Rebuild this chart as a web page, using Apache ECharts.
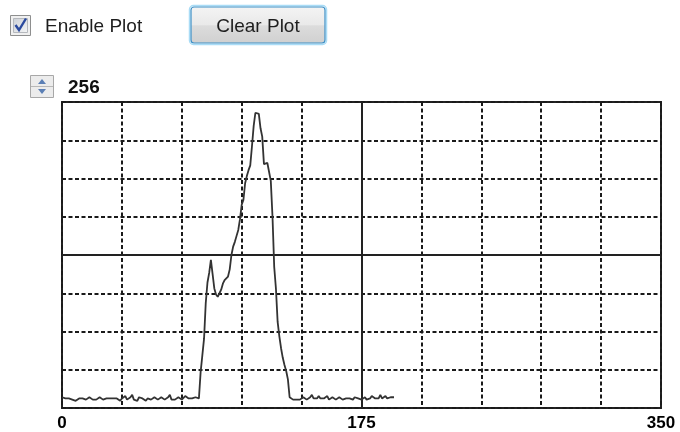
<!DOCTYPE html>
<html>
<head>
<meta charset="utf-8">
<script src="https://cdn.jsdelivr.net/npm/echarts@6/dist/echarts.min.js"></script>
<style>
html,body{margin:0;padding:0;background:#fff;}
#chart{width:680px;height:432px;}
</style>
</head>
<body>
<div id="chart"></div>
<script>
// ---- data ----
const xMin = 0, xMax = 350, xStep = 35;
const yMin = 0, yMax = 256, yStep = 32;
const xTickLabels = [0, 175, 350];
const checkboxLabel = 'Enable Plot';
const buttonLabel = 'Clear Plot';
// samples 0..79 (baseline noise)
const baselineLeft = [
  9,8,8,7,8,7,7,8,6,7,
  8,7,8,7,7,8,9,8,7,6,
  7,8,9,8,7,7,8,7,8,9,
  8,7,8,7,6,8,9,10,7,8,
  9,11,7,8,6,9,10,8,7,6,
  8,7,7,8,9,8,7,8,9,8,
  7,8,9,11,7,6,7,8,9,8,
  7,8,10,9,8,9,8,7,9,8
];
// samples 80..133 (peak)
const peak = [
  8,30,44,58,88,105,113,124,112,100,
  95,93,96,99,104,107,108,110,116,128,
  135,139,144,149,158,170,174,188,194,199,
  203,219,236,247,247,246,234,227,204,204,
  205,204,190,160,118,100,72,60,50,42,
  36,31,24,9
];
// samples 134..194 (baseline noise)
const baselineRight = [
  8,7,8,7,8,7,8,9,8,7,
  8,9,11,8,7,8,10,8,7,8,
  9,10,7,8,9,8,7,8,9,8,
  7,8,8,9,8,8,7,9,8,8,
  8,7,8,9,7,8,8,10,9,8,
  7,8,11,8,9,10,8,7,9,8,
  9
];
const signal = baselineLeft.concat(peak, baselineRight);
const seriesData = signal.map((v, i) => [i, v]);

const chart = echarts.init(document.getElementById('chart'), null, {renderer: 'canvas'});
const FONT = '"Liberation Sans", Arial, sans-serif';
const gridLine = {color: '#1a1a1a', width: 2, type: [4, 2.5]};

chart.setOption({
  animation: false,
  backgroundColor: '#ffffff',
  grid: {left: 62, right: 19, top: 102, bottom: 19.5, show: true, borderColor: '#222', borderWidth: 2, containLabel: false},
  xAxis: {
    type: 'value', min: xMin, max: xMax, interval: xStep,
    axisLine: {show: false}, axisTick: {show: false},
    splitLine: {show: true, lineStyle: gridLine},
    axisLabel: {
      show: true, margin: 7, color: '#000', fontFamily: FONT, fontWeight: 'bold', fontSize: 17,
      showMinLabel: true, showMaxLabel: true,
      formatter: v => (xTickLabels.indexOf(v) >= 0 ? String(v) : '')
    }
  },
  yAxis: {
    type: 'value', min: yMin, max: yMax, interval: yStep,
    axisLine: {show: false}, axisTick: {show: false}, axisLabel: {show: false},
    splitLine: {show: true, lineStyle: gridLine}
  },
  series: [{
    type: 'line', data: seriesData, showSymbol: false, symbol: 'none',
    lineStyle: {color: '#333', width: 1.8}, z: 5,
    markLine: {
      silent: true, symbol: 'none', label: {show: false},
      lineStyle: {color: '#222', width: 2, type: 'solid'},
      data: [{xAxis: (xMin + xMax) / 2}, {yAxis: (yMin + yMax) / 2}]
    }
  }],
  graphic: [
    // checkbox
    {type: 'rect', shape: {x: 10.5, y: 15.5, width: 20, height: 20}, style: {fill: '#f0f0f0', stroke: '#8e8f8f', lineWidth: 1}},
    {type: 'rect', shape: {x: 13.5, y: 18.5, width: 14, height: 14}, style: {fill: {type: 'linear', x: 0, y: 0, x2: 1, y2: 1, colorStops: [{offset: 0, color: '#cbcfd5'}, {offset: 1, color: '#f5f6f7'}]}, stroke: '#b5b8bd', lineWidth: 1}},
    {type: 'polyline', shape: {points: [[15.5, 25], [19, 30], [26, 18.5]]}, style: {stroke: '#2b4a9e', lineWidth: 2.4, fill: null}},
    {type: 'text', style: {x: 45, y: 27, text: checkboxLabel, font: '19px ' + FONT, fill: '#1e1e1e', verticalAlign: 'middle', textAlign: 'left'}},
    // button
    {type: 'rect', shape: {x: 189.5, y: 5.5, width: 137, height: 39, r: 4}, style: {fill: null, stroke: '#a9dcf6', lineWidth: 1.5}},
    {type: 'rect', shape: {x: 191, y: 7, width: 134, height: 36, r: 3}, style: {fill: {type: 'linear', x: 0, y: 0, x2: 0, y2: 1, colorStops: [{offset: 0, color: '#f4f4f4'}, {offset: 0.5, color: '#e9e9e9'}, {offset: 0.52, color: '#dcdcdc'}, {offset: 1, color: '#d0d0d0'}]}, stroke: '#3c8fc6', lineWidth: 1.2}},
    {type: 'text', style: {x: 258, y: 26.5, text: buttonLabel, font: '19px ' + FONT, fill: '#1e1e1e', verticalAlign: 'middle', textAlign: 'center'}},
    // spinner
    {type: 'rect', shape: {x: 30.5, y: 75.5, width: 23, height: 22}, style: {fill: '#ececec', stroke: '#a8a8a8', lineWidth: 1}},
    {type: 'line', shape: {x1: 31, y1: 86.5, x2: 53, y2: 86.5}, style: {stroke: '#b8b8b8', lineWidth: 1}},
    {type: 'polygon', shape: {points: [[38, 84], [46, 84], [42, 79]]}, style: {fill: '#5b7fb5'}},
    {type: 'polygon', shape: {points: [[38, 89], [46, 89], [42, 94]]}, style: {fill: '#5b7fb5'}},
    {type: 'text', style: {x: 68, y: 88, text: String(yMax), font: 'bold 19px ' + FONT, fill: '#111', verticalAlign: 'middle', textAlign: 'left'}}
  ]
});
</script>
</body>
</html>
